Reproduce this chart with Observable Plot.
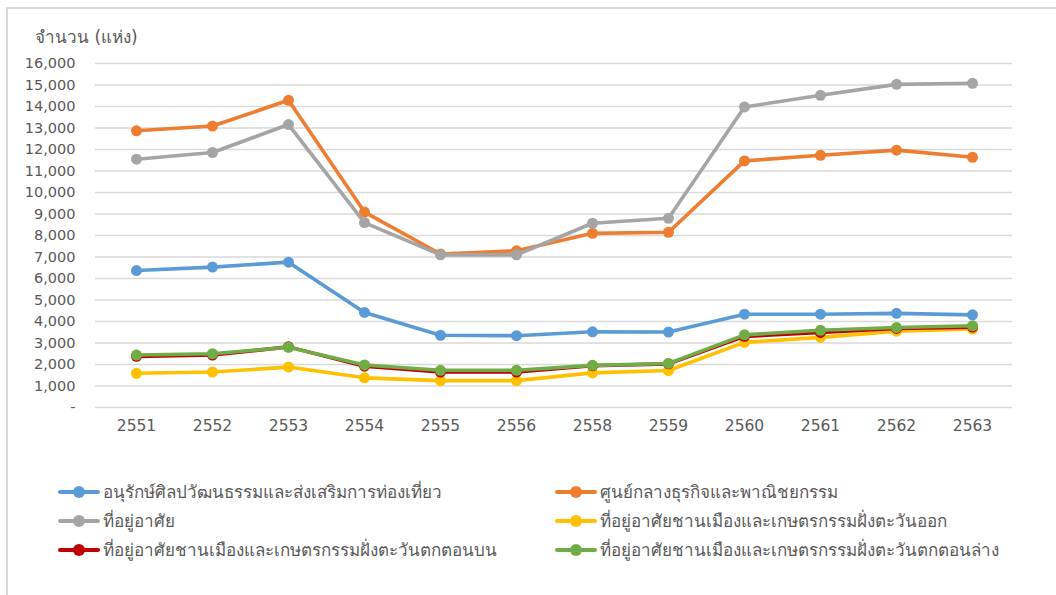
<!DOCTYPE html>
<html>
<head>
<meta charset="utf-8">
<script src="https://cdn.jsdelivr.net/npm/d3@7"></script>
<script src="https://cdn.jsdelivr.net/npm/@observablehq/plot@0.6"></script>
<style>
  html, body { margin: 0; padding: 0; background: #fff; }
  #wrap { position: relative; width: 1056px; height: 595px; overflow: hidden; font-family: "DejaVu Sans", "Noto Sans", sans-serif; color: #595959; }
  #frame { position: absolute; left: 6px; top: 7px; width: 1060px; height: 600px; border-left: 2px solid #d9d9d9; border-top: 2px solid #d9d9d9; box-sizing: border-box; }
  #title { position: absolute; left: 35px; top: 26px; font-size: 17px; line-height: 22px; white-space: nowrap; }
  #chart { position: absolute; left: 0; top: 0; }
  .leg { position: absolute; display: flex; align-items: center; font-size: 17px; line-height: 22px; white-space: nowrap; height: 22px; }
  .sw { position: relative; width: 42px; height: 20px; margin-right: 3px; }
  .sw .ln { position: absolute; left: 0; right: 0; top: 8px; height: 4px; border-radius: 2px; }
  .sw .dt { position: absolute; left: 15px; top: 4px; width: 12px; height: 12px; border-radius: 50%; }
</style>
</head>
<body>
<div id="wrap">
  <div id="frame"></div>
  <div id="title">จำนวน (แห่ง)</div>
  <div id="chart"></div>
  <div id="legend"></div>
</div>
<script>
const years = ["2551","2552","2553","2554","2555","2556","2558","2559","2560","2561","2562","2563"];

const seriesNames = [
  "อนุรักษ์ศิลปวัฒนธรรมและส่งเสริมการท่องเที่ยว",
  "ศูนย์กลางธุรกิจและพาณิชยกรรม",
  "ที่อยู่อาศัย",
  "ที่อยู่อาศัยชานเมืองและเกษตรกรรมฝั่งตะวันออก",
  "ที่อยู่อาศัยชานเมืองและเกษตรกรรมฝั่งตะวันตกตอนบน",
  "ที่อยู่อาศัยชานเมืองและเกษตรกรรมฝั่งตะวันตกตอนล่าง"
];
const seriesColors = ["#5B9BD5", "#ED7D31", "#A5A5A5", "#FFC000", "#C00000", "#70AD47"];

const conservation = [6370, 6530, 6760, 4420, 3360, 3340, 3520, 3510, 4340, 4340, 4380, 4310];
const business     = [12870, 13090, 14290, 9090, 7140, 7290, 8100, 8150, 11470, 11730, 11970, 11640];
const residential  = [11550, 11860, 13160, 8600, 7100, 7100, 8570, 8800, 13980, 14520, 15030, 15080];
const eastSuburb   = [1590, 1650, 1880, 1380, 1250, 1250, 1610, 1720, 3030, 3260, 3550, 3650];
const westUpper    = [2380, 2440, 2820, 1920, 1650, 1650, 1940, 2030, 3310, 3490, 3680, 3740];
const westLower    = [2440, 2500, 2800, 1980, 1730, 1730, 1960, 2050, 3380, 3590, 3720, 3800];

const yTicks = [0,1000,2000,3000,4000,5000,6000,7000,8000,9000,10000,11000,12000,13000,14000,15000,16000];

const allSeries = [conservation, business, residential, eastSuburb, westUpper, westLower];
const data = allSeries.flatMap((vals, i) => vals.map((v, j) => ({year: years[j], value: v, series: seriesNames[i]})));

const marks = [
  Plot.ruleY(yTicks, {stroke: "#d9d9d9", strokeWidth: 1.3})
];
seriesNames.forEach((name, i) => {
  const sub = data.filter(d => d.series === name);
  marks.push(Plot.line(sub, {x: "year", y: "value", stroke: seriesColors[i], strokeWidth: 3.6, strokeLinejoin: "round"}));
  marks.push(Plot.dot(sub, {x: "year", y: "value", fill: seriesColors[i], r: 5.5, stroke: null}));
});

const chart = Plot.plot({
  width: 1056,
  height: 440,
  marginTop: 63,
  marginBottom: 33,
  marginLeft: 95,
  marginRight: 44,
  style: {fontFamily: "'DejaVu Sans', sans-serif", fontSize: "14.5px", color: "#595959", background: "transparent"},
  x: {type: "point", domain: years, padding: 0.5, label: null, tickSize: 0, tickPadding: 12},
  y: {domain: [0, 16000], ticks: yTicks, label: null, tickSize: 0, tickPadding: 20,
      tickFormat: d => d === 0 ? "-" : d3.format(",")(d)},
  marks
});
chart.querySelectorAll("text").forEach(t => t.setAttribute("fill", "#595959"));
chart.querySelectorAll("g[aria-label='x-axis tick label'] text").forEach(t => t.style.fontSize = "15.5px");
document.getElementById("chart").appendChild(chart);

// legend
const legend = document.getElementById("legend");
const legPos = [
  [58, 481], [555, 481],
  [58, 510], [555, 510],
  [58, 539], [555, 539]
];
seriesNames.forEach((name, i) => {
  const el = document.createElement("div");
  el.className = "leg";
  el.style.left = legPos[i][0] + "px";
  el.style.top = legPos[i][1] + "px";
  el.innerHTML = `<div class="sw"><div class="ln" style="background:${seriesColors[i]}"></div><div class="dt" style="background:${seriesColors[i]}"></div></div><span>${name}</span>`;
  legend.appendChild(el);
});
</script>
</body>
</html>
